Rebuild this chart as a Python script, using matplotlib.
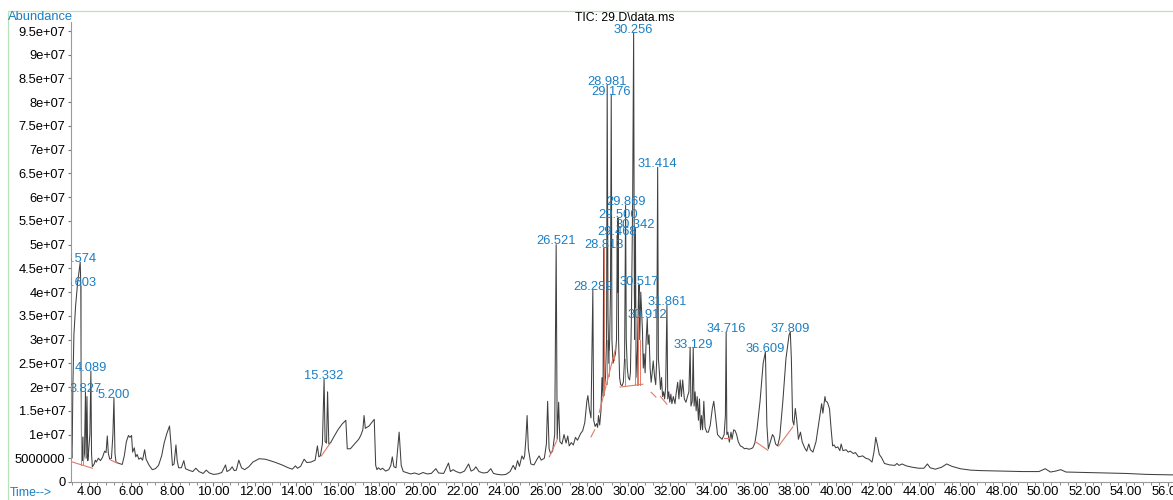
import numpy as np
import matplotlib
matplotlib.use("Agg")
import matplotlib.pyplot as plt
from matplotlib.ticker import MultipleLocator, FuncFormatter
from matplotlib.patches import Rectangle

plt.rcParams['font.family'] = ['Liberation Sans', 'DejaVu Sans']

# TIC trace, (retention time min, abundance in millions)
tic_points = [
    (3.13, 6.0), (3.15, 7.5), (3.17, 5.0), (3.19, 8.0), (3.22, 20), (3.27, 31),
    (3.35, 37), (3.45, 42), (3.574, 46.3), (3.59, 43), (3.603, 41.3), (3.62, 20),
    (3.64, 5.0), (3.67, 4.5), (3.70, 9.5), (3.73, 4.5), (3.78, 6.0), (3.827, 19),
    (3.86, 5.0), (3.90, 18), (3.94, 4.5), (3.97, 6.0), (4.04, 10), (4.089, 23.4),
    (4.12, 6.0), (4.16, 3.2), (4.25, 3.8), (4.30, 4.6), (4.35, 4.2), (4.45, 5.0),
    (4.55, 4.5), (4.65, 5.2), (4.75, 6.5), (4.82, 6.2), (4.88, 9.7), (4.93, 6.0),
    (5.00, 4.8), (5.08, 5.0), (5.15, 10), (5.20, 17.7), (5.25, 6.0), (5.30, 4.2),
    (5.45, 3.9), (5.60, 3.7), (5.70, 5.5), (5.80, 8.5), (5.90, 9.8), (5.97, 9.4),
    (6.05, 9.8), (6.10, 6.3), (6.18, 7.2), (6.25, 5.3), (6.32, 5.8), (6.40, 4.8),
    (6.50, 5.1), (6.58, 4.6), (6.68, 6.8), (6.75, 4.8), (6.90, 3.5), (7.05, 2.6),
    (7.20, 2.8), (7.35, 3.5), (7.50, 5.5), (7.62, 8.2), (7.75, 10.2), (7.88, 11.8),
    (7.95, 8.0), (8.02, 3.5), (8.10, 3.8), (8.19, 7.8), (8.25, 4.5), (8.32, 3.0),
    (8.45, 3.0), (8.57, 4.5), (8.65, 2.8), (8.80, 2.5), (9.00, 2.2), (9.15, 2.9),
    (9.30, 2.2), (9.50, 1.8), (9.65, 2.5), (9.80, 1.9), (10.0, 1.6), (10.2, 1.7),
    (10.4, 2.0), (10.58, 3.6), (10.65, 2.2), (10.8, 2.6), (10.9, 3.2), (11.0, 2.4),
    (11.1, 2.5), (11.22, 4.6), (11.35, 3.0), (11.5, 2.6), (11.7, 3.2), (11.9, 4.2),
    (12.2, 4.9), (12.5, 4.8), (12.8, 4.4), (13.0, 4.1), (13.3, 3.6), (13.6, 3.0),
    (13.8, 2.7), (13.95, 3.4), (14.05, 2.9), (14.2, 3.3), (14.37, 4.8), (14.5, 4.1),
    (14.7, 4.2), (14.9, 4.6), (15.01, 7.6), (15.08, 5.3), (15.15, 5.5), (15.25, 8.0),
    (15.332, 21.7), (15.38, 8.5), (15.45, 8.2), (15.50, 19), (15.56, 8.0), (15.65, 8.3),
    (15.8, 9.5), (16.0, 11), (16.2, 12.2), (16.38, 13), (16.45, 7.0), (16.6, 7.0),
    (16.8, 8.0), (17.0, 9.0), (17.1, 9.8), (17.2, 11), (17.26, 14), (17.32, 11.3),
    (17.5, 11.8), (17.75, 13.2), (17.82, 3.5), (17.88, 2.6), (17.95, 3.0), (18.05, 2.6),
    (18.15, 2.9), (18.3, 2.3), (18.45, 2.6), (18.55, 3.5), (18.62, 5.3), (18.7, 3.2),
    (18.8, 3.0), (18.95, 10.5), (19.05, 3.5), (19.15, 2.2), (19.3, 2.0), (19.5, 1.7),
    (19.7, 1.9), (19.9, 1.6), (20.1, 2.0), (20.3, 1.7), (20.5, 1.8), (20.72, 2.8),
    (20.85, 1.9), (21.1, 1.8), (21.33, 4.0), (21.42, 2.2), (21.55, 2.6), (21.7, 2.2),
    (21.9, 1.9), (22.1, 2.3), (22.3, 3.8), (22.42, 2.3), (22.55, 2.6), (22.65, 3.2),
    (22.8, 2.2), (23.0, 1.9), (23.2, 2.0), (23.37, 2.8), (23.5, 1.8), (23.7, 1.6),
    (23.9, 1.5), (24.1, 1.6), (24.3, 2.2), (24.45, 3.5), (24.55, 2.6), (24.66, 4.5),
    (24.75, 3.3), (24.87, 5.5), (24.95, 4.8), (25.0, 5.5), (25.06, 9.0), (25.12, 14),
    (25.18, 7.0), (25.3, 3.8), (25.45, 3.6), (25.6, 4.8), (25.7, 5.5), (25.8, 4.6),
    (25.95, 5.0), (26.05, 8.0), (26.11, 17), (26.18, 7.0), (26.25, 6.0), (26.35, 6.5),
    (26.45, 10), (26.521, 50), (26.57, 9.0), (26.64, 16.8), (26.7, 8.5), (26.8, 8.0),
    (26.9, 10), (27.0, 8.2), (27.08, 9.7), (27.15, 7.6), (27.25, 8.3), (27.35, 7.8),
    (27.45, 9.4), (27.55, 8.8), (27.7, 10.2), (27.8, 10.8), (27.9, 12.5), (28.0, 17),
    (28.05, 18.2), (28.12, 15.4), (28.2, 13.5), (28.289, 40.4), (28.33, 13), (28.4, 11.7),
    (28.47, 12.3), (28.52, 11.5), (28.56, 14), (28.62, 12), (28.68, 15), (28.73, 22),
    (28.78, 18), (28.813, 49.3), (28.85, 20), (28.9, 22), (28.95, 30), (28.981, 83.6),
    (29.02, 35), (29.06, 25), (29.10, 30), (29.14, 40), (29.176, 81.5), (29.21, 30),
    (29.26, 25), (29.32, 26), (29.38, 27), (29.43, 30), (29.468, 52), (29.485, 40),
    (29.50, 55.6), (29.53, 30), (29.58, 22), (29.63, 20.5), (29.7, 20.3), (29.76, 21),
    (29.82, 26), (29.869, 58.3), (29.9, 30), (29.95, 24), (30.0, 22), (30.06, 21.5),
    (30.1, 23), (30.15, 35), (30.21, 60), (30.256, 94.6), (30.29, 40), (30.32, 30),
    (30.342, 53.5), (30.37, 28), (30.42, 22), (30.46, 33), (30.49, 39), (30.517, 41.5),
    (30.55, 30), (30.6, 40), (30.64, 36), (30.68, 32), (30.72, 24), (30.76, 27),
    (30.81, 23), (30.86, 30), (30.912, 34.5), (30.95, 29), (31.0, 31), (31.05, 24),
    (31.1, 21), (31.15, 23), (31.2, 25.5), (31.27, 22), (31.32, 20.5), (31.37, 26),
    (31.414, 66.3), (31.45, 26), (31.5, 23), (31.55, 19.5), (31.6, 22), (31.65, 18),
    (31.7, 19), (31.75, 17.5), (31.8, 20), (31.861, 37.3), (31.9, 17.5), (31.95, 19),
    (32.0, 16.8), (32.05, 18.5), (32.1, 16.5), (32.17, 18), (32.25, 16.5), (32.3, 18.5),
    (32.38, 21), (32.44, 17.5), (32.5, 21.5), (32.56, 18), (32.62, 21.5), (32.7, 17.5),
    (32.78, 16.8), (32.85, 18), (32.92, 19), (32.98, 28.4), (33.02, 16), (33.08, 17),
    (33.129, 28.2), (33.17, 16), (33.22, 19), (33.27, 15), (33.32, 18), (33.38, 13),
    (33.43, 17.5), (33.48, 11), (33.53, 14), (33.58, 11), (33.64, 17), (33.7, 11.5),
    (33.78, 10.5), (33.86, 10.5), (33.95, 12), (34.05, 15.5), (34.12, 17), (34.2, 14),
    (34.3, 10), (34.4, 9.5), (34.52, 9.0), (34.62, 10), (34.68, 14), (34.716, 31.6),
    (34.75, 10), (34.8, 10.5), (34.87, 8.4), (34.95, 10.5), (35.0, 9.0), (35.08, 11),
    (35.15, 10.8), (35.22, 10), (35.3, 8.5), (35.4, 7.6), (35.5, 7.4), (35.6, 7.0),
    (35.7, 7.1), (35.8, 6.9), (35.9, 7.0), (36.0, 7.2), (36.1, 8.2), (36.2, 11),
    (36.35, 17), (36.5, 25), (36.609, 27.4), (36.68, 12), (36.75, 7.0), (36.85, 8.5),
    (36.95, 10), (37.02, 9.5), (37.1, 8.0), (37.2, 7.6), (37.3, 9.5), (37.45, 17),
    (37.6, 26), (37.75, 31), (37.809, 31.6), (37.86, 26), (37.92, 13), (37.98, 12),
    (38.05, 15.5), (38.12, 13), (38.2, 9.0), (38.3, 10.5), (38.38, 8.5), (38.5, 7.2),
    (38.6, 6.5), (38.7, 8.0), (38.78, 6.8), (38.9, 6.3), (39.05, 8.5), (39.2, 13),
    (39.32, 16.5), (39.38, 14.5), (39.48, 18), (39.52, 17), (39.6, 16.8), (39.7, 15.4),
    (39.78, 11), (39.85, 7.6), (39.92, 7.8), (40.0, 7.2), (40.1, 7.4), (40.2, 6.6),
    (40.26, 8.0), (40.35, 6.6), (40.5, 6.8), (40.6, 6.3), (40.7, 6.5), (40.85, 6.0),
    (40.95, 6.2), (41.1, 5.3), (41.3, 5.5), (41.45, 5.0), (41.6, 4.8), (41.75, 4.2),
    (41.85, 6.5), (41.93, 9.4), (42.0, 8.0), (42.1, 5.8), (42.2, 5.2), (42.35, 3.9),
    (42.6, 3.6), (42.85, 3.5), (42.95, 3.9), (43.05, 3.5), (43.2, 3.8), (43.4, 3.4),
    (43.7, 3.1), (44.0, 2.9), (44.25, 2.9), (44.42, 3.8), (44.55, 3.0), (44.8, 2.7),
    (45.1, 3.1), (45.35, 3.8), (45.6, 3.3), (46.0, 2.8), (46.5, 2.5), (47.0, 2.4),
    (48.0, 2.3), (49.0, 2.2), (49.8, 2.2), (50.1, 2.8), (50.35, 2.1), (50.6, 2.3),
    (50.85, 2.6), (51.1, 2.1), (52.0, 2.0), (53.0, 1.9), (54.0, 1.8), (55.0, 1.6),
    (56.25, 1.5),
]

# labelled peaks
peak_rt = [3.574, 3.603, 3.827, 4.089, 5.200, 15.332, 26.521, 28.289, 28.813,
           28.981, 29.176, 29.468, 29.500, 29.869, 30.256, 30.342, 30.517,
           30.912, 31.414, 31.861, 33.129, 34.716, 36.609, 37.809]
peak_top = [46.3, 41.3, 19.0, 23.4, 17.7, 21.7, 50.0, 40.4, 49.3,
            83.6, 81.5, 52.0, 55.6, 58.3, 94.6, 53.5, 41.5,
            34.5, 66.3, 37.3, 28.2, 31.6, 27.4, 31.6]

# integration baselines (red)
baseline_start = [(3.13, 4.3), (5.05, 4.6), (15.20, 5.5), (26.19, 5.3), (28.20, 9.5),
                  (28.60, 14.7), (29.60, 20.0), (31.10, 18.9), (31.55, 18.0),
                  (34.60, 9.2), (36.13, 8.5), (37.25, 7.6)]
baseline_end = [(4.16, 2.9), (5.35, 4.0), (15.60, 8.0), (26.55, 8.7), (28.38, 11.0),
                (29.40, 28.4), (30.70, 20.6), (31.33, 17.9), (31.86, 16.4),
                (34.85, 9.2), (36.72, 6.7), (37.93, 11.6)]
drop_rt = [3.603, 3.70, 28.813, 28.95, 29.05, 29.30, 29.82, 30.30, 30.42,
           30.47, 30.55, 31.38]

rt, abund = zip(*tic_points)
rt = np.array(rt)
abund = np.array(abund) * 1e6

blue = '#1b7fc3'
red = '#e07b68'

fig = plt.figure(figsize=(11.73, 5.0), dpi=100, facecolor='white')
ax = fig.add_axes([71 / 1173, 18 / 500, 1102 / 1173, 460 / 500])

ax.plot(rt, abund, color='#404040', lw=0.75)

for (t0, a0), (t1, a1) in zip(baseline_start, baseline_end):
    ax.plot([t0, t1], [a0 * 1e6, a1 * 1e6], color=red, lw=0.8)


def base_at(t):
    for (t0, a0), (t1, a1) in zip(baseline_start, baseline_end):
        if t0 <= t <= t1:
            return (a0 + (a1 - a0) * (t - t0) / (t1 - t0)) * 1e6
    return np.interp(t, rt, abund)


for t in drop_rt:
    ax.plot([t, t], [base_at(t), np.interp(t, rt, abund)], color=red, lw=0.7)

for t, h in zip(peak_rt, peak_top):
    ax.annotate('%.3f' % t, xy=(t, h * 1e6), xytext=(0, -2),
                textcoords='offset points', ha='center', va='bottom',
                color=blue, fontsize=9.3, annotation_clip=False, clip_on=True)

ax.set_xlim(3.13, 56.26)
ax.set_ylim(0, 96.9e6)
ax.xaxis.set_major_locator(MultipleLocator(2))
ax.xaxis.set_minor_locator(MultipleLocator(0.4))
ax.xaxis.set_major_formatter(FuncFormatter(lambda v, p: '%.2f' % v))
ax.yaxis.set_major_locator(MultipleLocator(5e6))
ax.yaxis.set_major_formatter(
    FuncFormatter(lambda v, p: '%d' % v if v < 1e7 else '%g' % v))

for s in ['top', 'right']:
    ax.spines[s].set_visible(False)
for s in ['left', 'bottom']:
    ax.spines[s].set_color('#9a9a9a')
    ax.spines[s].set_linewidth(0.8)
ax.tick_params(axis='x', which='major', length=3, color='#777777',
               labelsize=9.4, pad=0)
ax.tick_params(axis='x', which='minor', length=2, color='#777777')
ax.tick_params(axis='y', which='major', length=2, color='#777777',
               labelsize=9.3, pad=2)

fig.text(8 / 1173, 1 - 17 / 500, 'Abundance', color=blue, fontsize=9.3,
         ha='left', va='center')
fig.text(625 / 1173, 1 - 18 / 500, 'TIC: 29.D\\data.ms', color='black',
         fontsize=8.8, ha='center', va='center')
fig.text(10 / 1173, 1 - 493 / 500, 'Time-->', color=blue, fontsize=8.8,
         ha='left', va='center')

fig.patches.append(Rectangle((8 / 1173, -0.1), 1.2, 1 - 11 / 500 + 0.1,
                             transform=fig.transFigure, fill=False,
                             edgecolor='#b8e2b8', lw=0.9))

fig.savefig('out.png', dpi=100)
